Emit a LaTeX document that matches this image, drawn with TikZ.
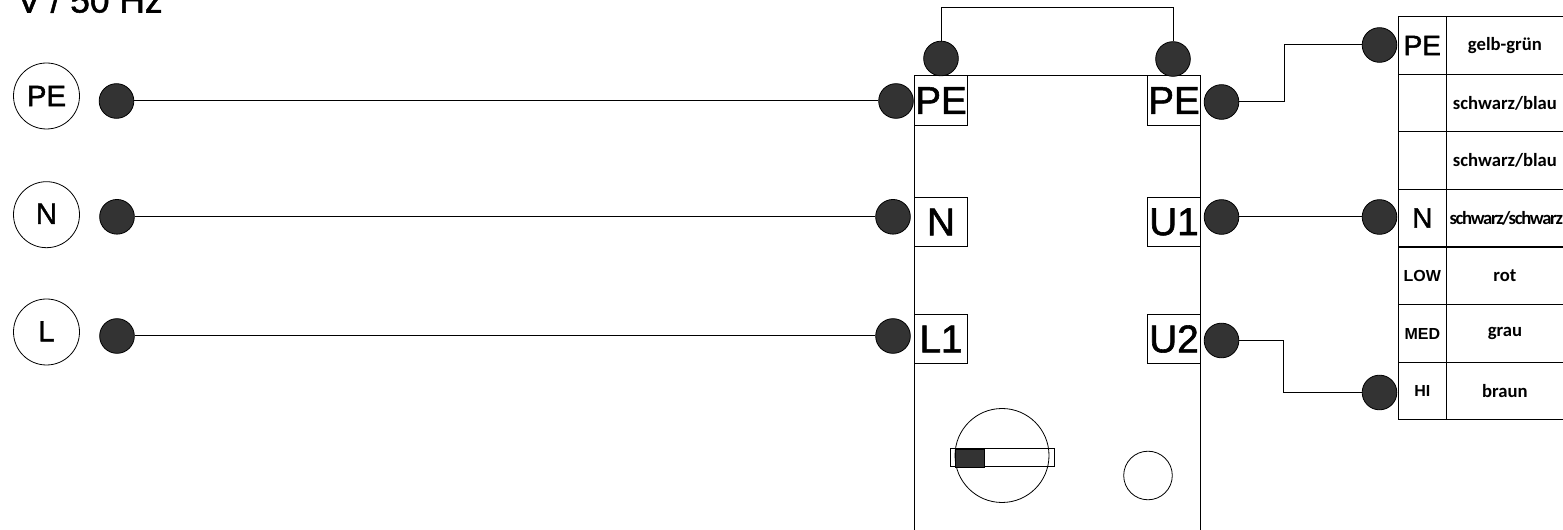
\documentclass[tikz,border=0pt]{standalone}
\usepackage{fontspec}
\setmainfont{Liberation Sans}
\newfontfamily\boldlabel[FakeBold=1.5]{Liberation Sans}
\newfontfamily\cellfont{Carlito}
\tikzset{
  wire/.style={draw=black,line width=0.75pt},
  dot/.style={circle,draw=black,fill=black!80,line width=0.6pt,minimum size=26pt,inner sep=0pt},
  source/.style={circle,draw=black,line width=0.6pt,minimum size=49.5pt,inner sep=0pt,font=\boldlabel\fontsize{22}{22}\selectfont},
  portbox/.style={rectangle,draw=black,line width=0.75pt,minimum width=39.75pt,minimum height=37pt,inner sep=0pt,font=\boldlabel\fontsize{29}{29}\selectfont},
  tabkey/.style={rectangle,draw=black,line width=0.75pt,minimum width=36pt,minimum height=43.2pt,inner sep=0pt,font=\boldlabel\fontsize{21}{21}\selectfont},
  tabsmall/.style={tabkey,font=\bfseries\fontsize{12}{12}\selectfont},
  tabcolor/.style={rectangle,draw=black,line width=0.75pt,minimum width=87.5pt,minimum height=43.2pt,inner sep=0pt,font=\cellfont\bfseries\fontsize{14}{14}\selectfont}
}
\begin{document}
\begin{tikzpicture}[x=0.75pt,y=0.75pt,yscale=-1,xscale=1]
\useasboundingbox (0,0) rectangle (1563,530);

\draw [wire] (914.5,530) -- (914.5,75.5) -- (1200,75.5) -- (1200,530);

\node [anchor=base west,inner sep=0pt,font=\boldlabel\fontsize{26.5}{26.5}\selectfont] (title) at (17,12.5) {V / 50 Hz};

\node [source] (srcPE) at (46.5,96) {PE};
\node [source] (srcN) at (46.5,214.7) {\raisebox{1.5pt}{N}};
\node [source] (srcL) at (46.5,332) {\raisebox{1pt}{L}};

\node [dot] (inPE) at (116.5,101) {};
\node [dot] (inN) at (117,216.8) {};
\node [dot] (inL) at (117,336) {};

\node [portbox] (boxPE) at (941,100.5) {PE};
\node [portbox] (boxN) at (941,222) {N};
\node [portbox] (boxL) at (941,339) {L1};
\node [portbox] (boxOutPE) at (1174,100.5) {PE};
\node [portbox] (boxUa) at (1174,222) {U1};
\node [portbox] (boxUb) at (1174,339) {U2};

\node [dot] (devPE) at (896,101) {};
\node [dot] (devN) at (893,216.8) {};
\node [dot] (devL) at (893,336) {};
\node [dot] (topL) at (941,58.5) {};
\node [dot] (topR) at (1173,59) {};
\node [dot] (outPE) at (1221.5,102) {};
\node [dot] (outUa) at (1221.5,217) {};
\node [dot] (outUb) at (1221.5,340.5) {};

\node [dot] (tabDotPE) at (1379.5,45) {};
\node [dot] (tabDotN) at (1379.5,217) {};
\node [dot] (tabDotHI) at (1379.5,392.5) {};

\coordinate (bridge) at (941,8);
\coordinate (bendPE) at (1284,70);
\coordinate (bendHI) at (1283,370);

\draw [wire] (inPE) -- (devPE);
\draw [wire] (inN) -- (devN);
\draw [wire] (inL) -- (devL);
\draw [wire] (topL) -- (bridge) -| (topR);
\draw [wire] (outPE) -| (bendPE) |- (tabDotPE);
\draw [wire] (outUa) -- (tabDotN);
\draw [wire] (outUb) -| (bendHI) |- (tabDotHI);

\node [tabkey] (keyA) at (1422.3,45.5) {PE};
\node [tabkey] (keyB) at (1422.3,103) {};
\node [tabkey] (keyC) at (1422.3,160.5) {};
\node [tabkey] (keyD) at (1422.3,218) {N};
\node [tabsmall] (keyE) at (1422.3,276) {\raisebox{-0.75pt}{LOW}};
\node [tabsmall] (keyF) at (1422.3,333.5) {\raisebox{-2pt}{MED}};
\node [tabsmall] (keyG) at (1422.3,391) {HI};

\node [tabcolor] (colA) at (1504.9,45.5) {gelb-grün};
\node [tabcolor] (colB) at (1504.9,103) {schwarz/blau};
\node [tabcolor] (colC) at (1504.9,160.5) {schwarz/blau};
\node [tabcolor] (colD) at (1504.9,218) {\hspace{2pt}\addfontfeature{LetterSpace=-7}schwarz/schwarz};
\node [tabcolor] (colE) at (1504.9,276) {\raisebox{-1.5pt}{rot}};
\node [tabcolor] (colF) at (1504.9,333.5) {\raisebox{-1pt}{grau}};
\node [tabcolor] (colG) at (1504.9,391) {braun};

\draw [line width=0.6pt] (1002,455.5) circle (47);
\draw [line width=0.6pt] (1148,475.5) circle (24.3);
\draw [wire] (950.7,449) rectangle (1054,467);
\draw [line width=0.6pt,fill=black!80] (955,449) rectangle (984,467);

\end{tikzpicture}
\end{document}
